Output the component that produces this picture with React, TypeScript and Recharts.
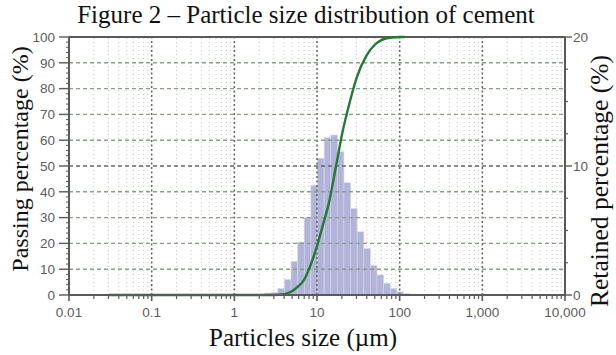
import { ComposedChart, Bar, Line, XAxis, YAxis, ReferenceLine } from "recharts";

// Histogram bins (µm, log-spaced) and retained %
const BIN_SIZES = [2.55, 3.06, 3.68, 4.43, 5.32, 6.4, 7.69, 9.25, 11.1, 13.4, 16.1, 19.3, 23.2, 27.9, 33.6, 40.4, 48.5, 58.3, 70.1, 84.3, 101, 122];
const RETAINED = [0.15, 0.2, 0.5, 1.2, 2.6, 4.1, 6.0, 8.5, 10.6, 12.2, 12.4, 11.1, 8.7, 6.7, 4.9, 3.6, 2.3, 1.55, 0.9, 0.5, 0.25, 0.1];

// Cumulative passing curve
const CURVE_SIZES = [0.03, 1, 3, 4, 5, 6, 7, 8, 10, 12, 14, 17, 20, 25, 30, 40, 50, 60, 80, 100, 115];
const PASSING = [0, 0, 0, 0.3, 1.5, 3.5, 6, 10, 19, 28, 36, 50, 62, 75, 84, 93, 97, 98.8, 99.8, 100, 100];

// Axis ticks
const DECADES = [0.01, 0.1, 1, 10, 100, 1000, 10000];
const MINOR_MULT = [2, 3, 4, 5, 6, 7, 8, 9];
const LEFT_MAJOR = [0, 10, 20, 30, 40, 50, 60, 70, 80, 90, 100];
const RIGHT_MAJOR = [0, 10, 20];

const X_MINOR = DECADES.slice(0, -1).flatMap((d) => MINOR_MULT.map((m) => +(d * m).toPrecision(3)));
const X_TICKS = [...DECADES, ...X_MINOR].sort((a, b) => a - b);
const LEFT_TICKS = Array.from({ length: 51 }, (_, i) => i * 2);
const RIGHT_TICKS = Array.from({ length: 9 }, (_, i) => i * 2.5);

const histData = BIN_SIZES.map((size, i) => ({ size, retained: RETAINED[i] }));
const curveData = CURVE_SIZES.map((size, i) => ({ size, passing: PASSING[i] }));

const AXIS = "#5a5a5a";
const BAR_W = 6.6;
const TICK_FONT = { fontFamily: "Liberation Sans, Arial, sans-serif", fontSize: 13.5, fill: "#5c5c5c" };
const SERIF = "Liberation Serif, 'Times New Roman', serif";

const fmtX = (v: number) => (v >= 1000 ? v.toLocaleString("en-US") : String(v));

const XTick = (props: any) => {
  const { x, y, payload } = props;
  const major = DECADES.includes(payload.value);
  const ay = y - 12;
  return (
    <g>
      <line x1={x} x2={x} y1={ay} y2={ay + (major ? 6 : 4)} stroke={AXIS} strokeWidth={major ? 1.6 : 1.2} />
      {major && (
        <text x={x} y={y} dy="0.71em" textAnchor="middle" {...TICK_FONT}>
          {fmtX(payload.value)}
        </text>
      )}
    </g>
  );
};

const LeftTick = (props: any) => {
  const { x, y, payload } = props;
  const major = LEFT_MAJOR.includes(payload.value);
  const ax = x + 14;
  return (
    <g>
      <line x1={ax - (major ? 10 : 3)} x2={ax} y1={y} y2={y} stroke={AXIS} strokeWidth={major ? 1.4 : 1} />
      {major && (
        <text x={x} y={y} dy="0.35em" textAnchor="end" {...TICK_FONT}>
          {payload.value}
        </text>
      )}
    </g>
  );
};

const RightTick = (props: any) => {
  const { x, y, payload } = props;
  const major = RIGHT_MAJOR.includes(payload.value);
  const ax = x - 8;
  return (
    <g>
      <line x1={ax} x2={ax + (major ? 7 : 3)} y1={y} y2={y} stroke={AXIS} strokeWidth={major ? 1.4 : 1.2} />
      {major && (
        <text x={x} y={y} dy="0.35em" textAnchor="start" {...TICK_FONT}>
          {payload.value}
        </text>
      )}
    </g>
  );
};

// fixed-width bar centred on the bin value (log axis gives no usable band size)
const BinBar = (props: any) => {
  const { x, y, width, height } = props;
  if (height == null || height <= 0) return null;
  const cx = x + width / 2;
  return (
    <rect
      x={cx - BAR_W / 2}
      y={y}
      width={BAR_W}
      height={height}
      fill="#aaadd6"
      fillOpacity={0.92}
      stroke="#d4d5ec"
      strokeWidth={0.6}
    />
  );
};

export default function App() {
  return (
    <div style={{ position: "absolute", left: 0, top: 0, width: 616, height: 355, background: "#fff" }}>
      <ComposedChart
        width={616}
        height={355}
        data={histData}
        margin={{ top: 37, right: 21, bottom: 30, left: 29 }}
      >
        <XAxis
          dataKey="size"
          type="number"
          scale="log"
          domain={[0.01, 10000]}
          ticks={X_TICKS}
          interval={0}
          allowDataOverflow
          height={30}
          tickSize={6}
          tickMargin={6}
          tickLine={false}
          tick={(p: any) => <XTick {...p} />}
          axisLine={{ stroke: AXIS, strokeWidth: 2 }}
        />
        <YAxis
          yAxisId="left"
          domain={[0, 100]}
          ticks={LEFT_TICKS}
          interval={0}
          width={40}
          tickSize={10}
          tickMargin={4}
          tickLine={false}
          tick={(p: any) => <LeftTick {...p} />}
          axisLine={{ stroke: AXIS, strokeWidth: 2 }}
        />
        <YAxis
          yAxisId="right"
          orientation="right"
          domain={[0, 20]}
          ticks={RIGHT_TICKS}
          interval={0}
          width={30}
          tickSize={6}
          tickMargin={2}
          tickLine={false}
          tick={(p: any) => <RightTick {...p} />}
          axisLine={{ stroke: AXIS, strokeWidth: 2 }}
        />

        {X_MINOR.map((v) => (
          <ReferenceLine key={`mx-${v}`} x={v} yAxisId="left" stroke="#c4c4c4" strokeDasharray="1 3" />
        ))}
        {DECADES.slice(1, -1).map((v) => (
          <ReferenceLine key={`dx-${v}`} x={v} yAxisId="left" stroke="#666" strokeWidth={1.6} strokeDasharray="2 2.5" />
        ))}
        {LEFT_MAJOR.slice(1, -1).map((v) => (
          <ReferenceLine key={`hy-${v}`} y={v} yAxisId="left" stroke={v === 50 ? "#666" : "#86a086"} strokeWidth={1.4} strokeDasharray="4 3" />
        ))}
        <ReferenceLine y={100} yAxisId="left" stroke={AXIS} strokeWidth={2} />

        <Bar
          dataKey="retained"
          yAxisId="right"
          fill="#aaadd6"
          shape={(p: any) => <BinBar {...p} />}
          isAnimationActive={false}
        />
        <Line
          data={curveData}
          dataKey="passing"
          yAxisId="left"
          type="monotone"
          stroke="#237a35"
          strokeWidth={2.4}
          dot={false}
          activeDot={false}
          isAnimationActive={false}
        />
      </ComposedChart>

      <svg width={616} height={355} style={{ position: "absolute", left: 0, top: 0, pointerEvents: "none" }}>
        <text x={306} y={23} textAnchor="middle" fontFamily={SERIF} fontSize={25} fill="#111">
          Figure 2 – Particle size distribution of cement
        </text>
        <text x={303} y={346} textAnchor="middle" fontFamily={SERIF} fontSize={25} fill="#111">
          Particles size (µm)
        </text>
        <text
          x={0}
          y={0}
          transform="translate(28 159) rotate(-90)"
          textAnchor="middle"
          fontFamily={SERIF}
          fontSize={24}
          fill="#111"
        >
          Passing percentage (%)
        </text>
        <text
          x={0}
          y={0}
          transform="translate(608 181) rotate(-90)"
          textAnchor="middle"
          fontFamily={SERIF}
          fontSize={25.5}
          fill="#111"
        >
          Retained percentage (%)
        </text>
      </svg>
    </div>
  );
}
